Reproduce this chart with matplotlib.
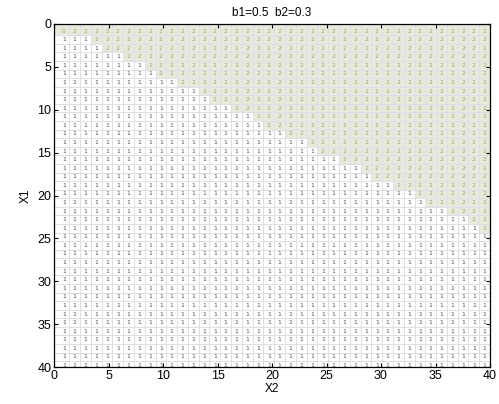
import numpy as np
import matplotlib
matplotlib.use('Agg')
import matplotlib.pyplot as plt
from matplotlib.colors import ListedColormap

plt.rcParams['font.family'] = ['Liberation Sans', 'DejaVu Sans']

# ---- data ----
n_rows = 40          # X1 index 0..39
n_cols = 40          # X2 index 0..39
title = "b1=0.5  b2=0.3"
# for X1 = 1..23: first X2 index whose label is 2 (all columns before it are 1)
first_two = [3, 4, 6, 8, 9, 11, 13, 14, 16, 18, 19, 21, 23, 24, 26, 28, 29, 31,
             33, 34, 36, 38, 39]
row0_values = [0] + [2] * (n_cols - 1)   # top row
xticks = [0, 5, 10, 15, 20, 25, 30, 35, 40]
yticks = [0, 5, 10, 15, 20, 25, 30, 35, 40]

# build matrix
M = np.ones((n_rows, n_cols), dtype=int)
M[0, :] = row0_values
for r, c in enumerate(first_two, start=1):
    M[r, c:] = 2

# ---- layout ----
fig = plt.figure(figsize=(4.99, 4.04), dpi=100)
ax = fig.add_axes([54 / 499, 1 - 367 / 404, 436 / 499, 343 / 404])

xstep, x0 = 0.99, 0.9
ystep, y0 = 1.0, 0.82
xc = x0 + xstep * np.arange(n_cols)
yc = y0 + ystep * np.arange(n_rows)
xe = np.concatenate([[0], xc[:-1] + xstep / 2, [40]])
ye = np.concatenate([[0], yc[:-1] + ystep / 2, [40]])

cmap = ListedColormap(['#e9e9d9', '#ffffff', '#e9e9d9'])
ax.pcolormesh(xe, ye, M, cmap=cmap, vmin=-0.5, vmax=2.5,
              edgecolors='#dcdfe8', linewidth=0.6)

colors = {0: '#9a9a80', 1: '#505050', 2: '#a0a088'}
for i in range(n_rows):
    for j in range(n_cols):
        v = M[i, j]
        ax.text(xc[j], yc[i], str(v), fontsize=4.3, ha='center', va='center',
                color=colors[v], family='DejaVu Sans')

ax.set_xlim(0, 40)
ax.set_ylim(40, 0)
ax.set_xticks(xticks)
ax.set_yticks(yticks)
ax.tick_params(direction='in', top=True, right=True, length=3, width=0.8,
               labelsize=9, pad=2)
for s in ax.spines.values():
    s.set_linewidth(0.9)
ax.set_title(title, fontsize=8.5, pad=6)
ax.set_xlabel("X2", fontsize=8.5, labelpad=1)
ax.set_ylabel("X1", fontsize=8.5, labelpad=4)

fig.savefig('out.png', dpi=100)
